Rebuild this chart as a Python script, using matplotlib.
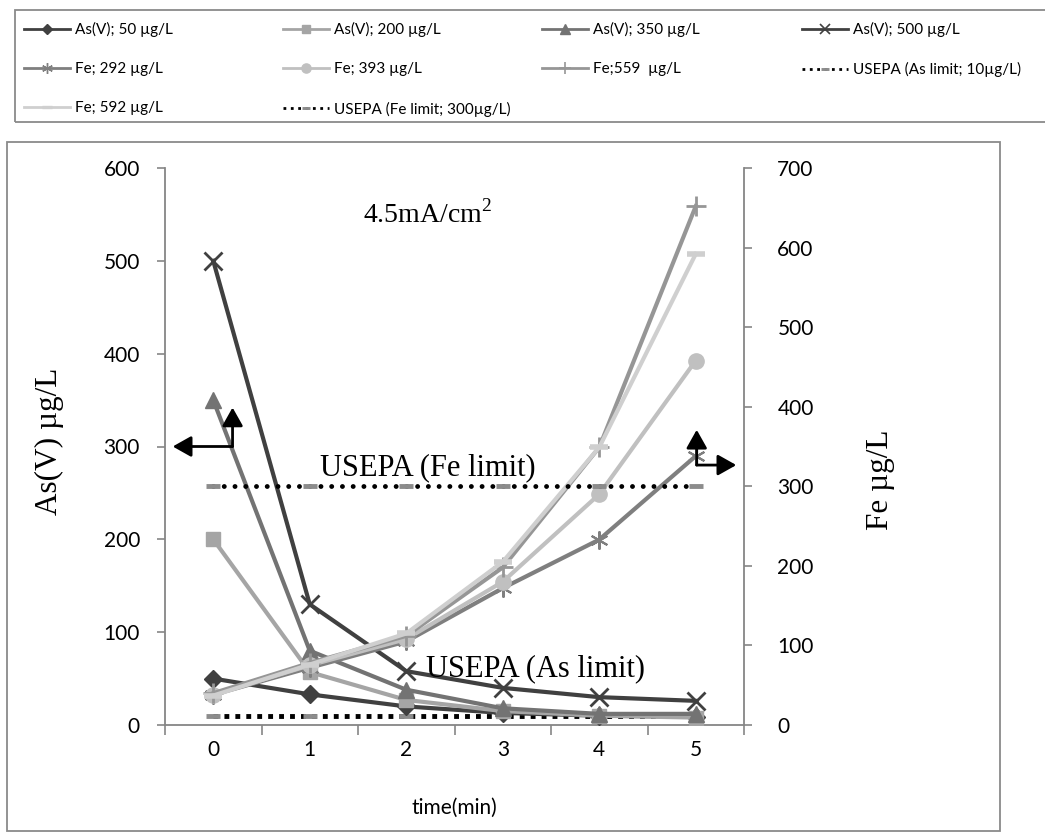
import matplotlib.pyplot as plt
from matplotlib.lines import Line2D
from matplotlib.patches import Rectangle

plt.rcParams['mathtext.fontset'] = 'custom'
plt.rcParams['mathtext.rm'] = 'Liberation Serif'

# data
time_min = [0, 1, 2, 3, 4, 5]
as_50 = [50, 33, 20, 13, 10, 9]
as_200 = [200, 57, 27, 15, 10, 8]
as_350 = [350, 80, 38, 18, 12, 12]
as_500 = [500, 130, 58, 40, 30, 26]
fe_292 = [38, 72, 105, 172, 233, 338]
fe_393 = [38, 75, 108, 180, 290, 458]
fe_559 = [40, 78, 112, 198, 349, 652]
fe_592 = [37, 76, 115, 205, 349, 592]
usepa_as = [10, 10, 10, 10, 10, 10]
usepa_fe = [300, 300, 300, 300, 300, 300]

W, H = 1045, 832
SANS = 'Lato'
SERIF = 'Liberation Serif'
SPINE = '#868686'

fig = plt.figure(figsize=(W / 100, H / 100), dpi=100)
ax = fig.add_axes([165 / W, 1 - 725 / H, 579 / W, 557 / H])
ax2 = ax.twinx()

# primary axis: As(V)
l_as50, = ax.plot(time_min, as_50, color='#404040', lw=3, marker='D', ms=9, zorder=3)
l_as200, = ax.plot(time_min, as_200, color='#a5a5a5', lw=3, marker='s', ms=10, zorder=3)
l_as350, = ax.plot(time_min, as_350, color='#737373', lw=3, marker='^', ms=11, zorder=3)
l_as500, = ax.plot(time_min, as_500, color='#404040', lw=3, marker='x', ms=13, mew=2, zorder=3)
l_usas, = ax.plot(time_min, usepa_as, color='black', lw=3.5, ls=(0, (1, 1.25)),
                  marker='_', ms=10, mew=3.5, mec='#8c8c8c', zorder=2)

# secondary axis: Fe
l_fe292, = ax2.plot(time_min, fe_292, color='#7f7f7f', lw=3, marker=(6, 2, 0), ms=13, mew=1.5)
l_fe393, = ax2.plot(time_min, fe_393, color='#c0c0c0', lw=3, marker='o', ms=11)
l_fe559, = ax2.plot(time_min, fe_559, color='#969696', lw=3, marker='+', ms=15, mew=2)
l_fe592, = ax2.plot(time_min, fe_592, color='#cfcfcf', lw=3, marker='_', ms=13, mew=4)
l_usfe, = ax2.plot(time_min, usepa_fe, color='black', lw=3.5, ls=(0, (0.01, 2.2)),
                   dash_capstyle='round', marker='_', ms=10, mew=3.5, mec='#8c8c8c')

ax.set_xlim(-0.5, 5.5)
ax.set_ylim(0, 600)
ax2.set_ylim(0, 700)
ax.set_xticks(time_min)
ax.set_xticks([-0.5, 0.5, 1.5, 2.5, 3.5, 4.5, 5.5], minor=True)
ax.set_yticks([0, 100, 200, 300, 400, 500, 600])
ax2.set_yticks([0, 100, 200, 300, 400, 500, 600, 700])
ax.tick_params(axis='x', which='major', length=0, pad=11, labelsize=15)
ax.tick_params(axis='x', which='minor', length=7, color=SPINE, width=1.2)
ax.tick_params(axis='y', length=6, color=SPINE, width=1.2, pad=12, labelsize=15)
ax2.tick_params(axis='y', length=6, color=SPINE, width=1.2, pad=18, labelsize=15)
for lab in ax.get_xticklabels() + ax.get_yticklabels() + ax2.get_yticklabels():
    lab.set_fontfamily(SANS)

for a in (ax, ax2):
    a.spines['top'].set_visible(False)
    for s in a.spines.values():
        s.set_color(SPINE)
        s.set_linewidth(1.3)
ax.spines['right'].set_visible(False)
ax2.spines['left'].set_visible(False)
ax2.spines['bottom'].set_visible(False)

ax.set_ylabel('As(V) µg/L', fontfamily=SERIF, fontsize=22.5, va='center')
ax.yaxis.set_label_coords(-0.2, 0.51)
ax2.set_ylabel('Fe µg/L', fontfamily=SERIF, fontsize=22.5, va='center')
ax2.yaxis.set_label_coords(1.235, 0.44)
ax.set_xlabel('time(min)', fontfamily=SANS, fontsize=15)
ax.xaxis.set_label_coords(0.5, -0.13)

# annotations
ax2.text(1.55, 550 * 7 / 6, r'4.5mA/cm$^{2}$', fontfamily=SERIF, fontsize=20, va='center', ha='left')
ax2.text(1.11, 277 * 7 / 6, 'USEPA (Fe limit)', fontfamily=SERIF, fontsize=22, va='center', ha='left')
ax2.text(2.2, 61 * 7 / 6, 'USEPA (As limit)', fontfamily=SERIF, fontsize=22, va='center', ha='left')

arrow = dict(arrowstyle='-|>,head_length=0.8,head_width=0.45', color='black', lw=2,
             mutation_scale=14, shrinkA=0, shrinkB=0)
for corner, tips in [((0.2, 300), [(-0.42, 300), (0.2, 342)]),
                     ((5.01, 280), [(5.42, 280), (5.01, 318)])]:
    for tip in tips:
        ax2.annotate('', xy=tip, xytext=corner, xycoords=ax.transData,
                     textcoords=ax.transData, arrowprops=arrow)

# frames
fig.patches.append(Rectangle((7 / W, 1 / H), 993 / W, 689 / H, transform=fig.transFigure,
                             fill=False, edgecolor='#8a8a8a', lw=1.3))
fig.patches.append(Rectangle((15 / W, 1 - 122 / H), 1040 / W, 112 / H, transform=fig.transFigure,
                             fill=False, edgecolor='#8a8a8a', lw=1.3))

# legend, laid out in four columns like the original
def proxy(line, lw=2, ms=None):
    return Line2D([], [], color=line.get_color(), lw=lw, marker=line.get_marker(),
                  ms=ms if ms else line.get_markersize() * 0.6,
                  mew=max(1, line.get_markeredgewidth() * 0.6),
                  mec=line.get_markeredgecolor(), ls='-' if line.get_linestyle() == '-' else ':')

cols = [
    (24, [(l_as50, 'As(V); 50 µg/L'), (l_fe292, 'Fe; 292 µg/L'), (l_fe592, 'Fe; 592 µg/L')]),
    (283, [(l_as200, 'As(V); 200 µg/L'), (l_fe393, 'Fe; 393 µg/L'), (l_usfe, 'USEPA (Fe limit; 300µg/L)')]),
    (542, [(l_as350, 'As(V); 350 µg/L'), (l_fe559, 'Fe;559  µg/L')]),
    (802, [(l_as500, 'As(V); 500 µg/L'), (l_usas, 'USEPA (As limit; 10µg/L)')]),
]
for x0, items in cols:
    fig.legend([proxy(l) for l, _ in items], [t for _, t in items],
               loc='upper left', bbox_to_anchor=(x0 / W, 1 - 22 / H),
               frameon=False, borderpad=0, borderaxespad=0,
               handlelength=3.0, handletextpad=0.35, labelspacing=1.65,
               prop={'family': SANS, 'size': 11})

fig.savefig('out.png', dpi=100)
